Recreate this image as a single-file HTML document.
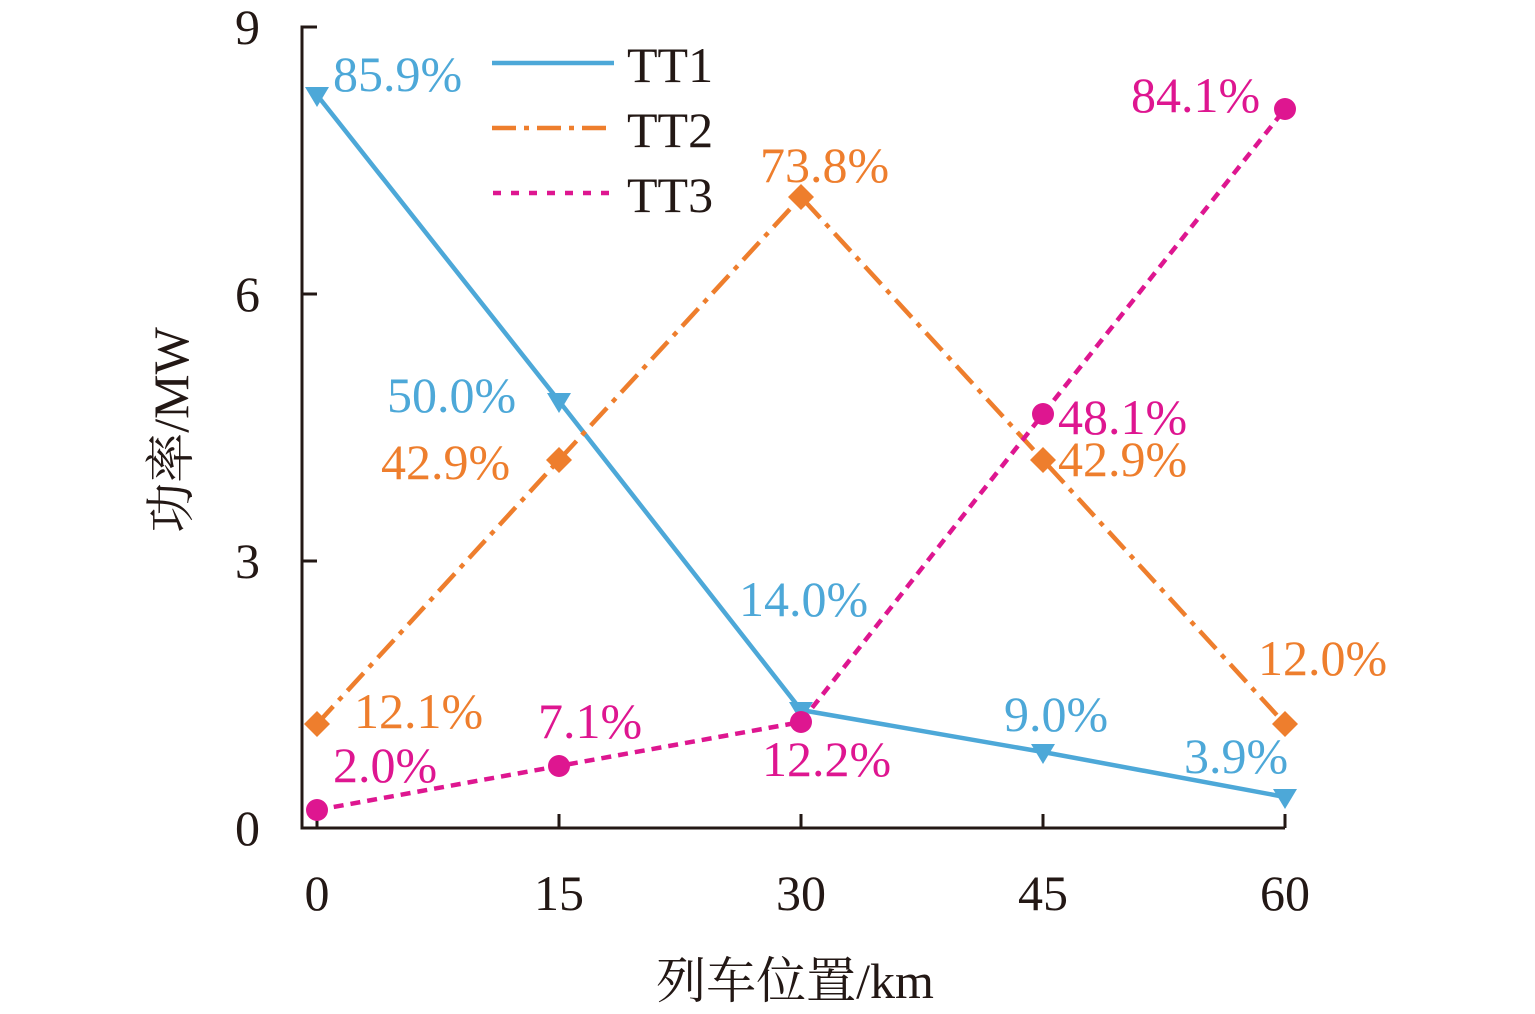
<!DOCTYPE html>
<html><head><meta charset="utf-8"><style>body{margin:0;background:#fff}svg{display:block}</style></head><body>
<svg width="1535" height="1014" viewBox="0 0 1535 1014" xmlns="http://www.w3.org/2000/svg" font-family="Liberation Serif, Noto Serif CJK SC, serif">
<g stroke="#231815" stroke-width="3" fill="none">
<polyline points="317,27 302,27 302,828 1285,828"/>
<line x1="302" y1="294" x2="317" y2="294"/><line x1="302" y1="561" x2="317" y2="561"/>
<line x1="317" y1="828" x2="317" y2="814"/><line x1="559" y1="828" x2="559" y2="814"/><line x1="801" y1="828" x2="801" y2="814"/><line x1="1043" y1="828" x2="1043" y2="814"/><line x1="1285" y1="828" x2="1285" y2="814"/>
</g>
<g font-size="50" fill="#231815" text-anchor="end">
<text x="260" y="44">9</text><text x="260" y="311">6</text><text x="260" y="578">3</text><text x="260" y="845">0</text>
</g>
<g font-size="50" fill="#231815" text-anchor="middle">
<text x="317" y="910">0</text><text x="559" y="910">15</text><text x="801" y="910">30</text><text x="1043" y="910">45</text><text x="1285" y="910">60</text>
<text x="795" y="998">列车位置/km</text>
<text transform="translate(188,430) rotate(-90)">功率/MW</text>
</g>
<polyline points="317,95 559,401 801,710 1043,752 1285,797" fill="none" stroke="#4DA8D8" stroke-width="4.5"/>
<polyline points="317,724 559,460 801,197 1043,460 1285,724" fill="none" stroke="#EE7E2D" stroke-width="4.5" stroke-dasharray="24,8,5,8"/>
<polyline points="317,810 559,766 801,722 1043,414 1285,109" fill="none" stroke="#DE1690" stroke-width="4.5" stroke-dasharray="10,7"/>
<g fill="#4DA8D8">
<path d="M305,87h24l-12,20z"/><path d="M547,393h24l-12,20z"/><path d="M789,702h24l-12,20z"/><path d="M1031,744h24l-12,20z"/><path d="M1273,789h24l-12,20z"/>
</g>
<g fill="#EE7E2D">
<path d="M317,711l13,13l-13,13l-13,-13z"/><path d="M559,447l13,13l-13,13l-13,-13z"/><path d="M801,184l13,13l-13,13l-13,-13z"/><path d="M1043,447l13,13l-13,13l-13,-13z"/><path d="M1285,711l13,13l-13,13l-13,-13z"/>
</g>
<g fill="#DE1690">
<circle cx="317" cy="810" r="11"/><circle cx="559" cy="766" r="11"/><circle cx="801" cy="722" r="11"/><circle cx="1043" cy="414" r="11"/><circle cx="1285" cy="109" r="11"/>
</g>
<g font-size="50">
<text x="333" y="91" fill="#4DA8D8">85.9%</text>
<text x="387" y="412" fill="#4DA8D8">50.0%</text>
<text x="739" y="616" fill="#4DA8D8">14.0%</text>
<text x="1004" y="731" fill="#4DA8D8">9.0%</text>
<text x="1184" y="773" fill="#4DA8D8">3.9%</text>
<text x="381" y="479" fill="#EE7E2D">42.9%</text>
<text x="354" y="728" fill="#EE7E2D">12.1%</text>
<text x="760" y="182" fill="#EE7E2D">73.8%</text>
<text x="1058" y="476" fill="#EE7E2D">42.9%</text>
<text x="1258" y="675" fill="#EE7E2D">12.0%</text>
<text x="333" y="782" fill="#DE1690">2.0%</text>
<text x="538" y="738" fill="#DE1690">7.1%</text>
<text x="762" y="776" fill="#DE1690">12.2%</text>
<text x="1058" y="434" fill="#DE1690">48.1%</text>
<text x="1131" y="112" fill="#DE1690">84.1%</text>
</g>
<line x1="492" y1="63" x2="614" y2="63" stroke="#4DA8D8" stroke-width="4.5"/>
<line x1="492" y1="128" x2="614" y2="128" stroke="#EE7E2D" stroke-width="4.5" stroke-dasharray="24,8,5,8"/>
<line x1="493" y1="193" x2="614" y2="193" stroke="#DE1690" stroke-width="4.5" stroke-dasharray="8,10"/>
<g font-size="50" fill="#231815">
<text x="627" y="82">TT1</text><text x="627" y="147">TT2</text><text x="627" y="212">TT3</text>
</g>
</svg>
</body></html>
